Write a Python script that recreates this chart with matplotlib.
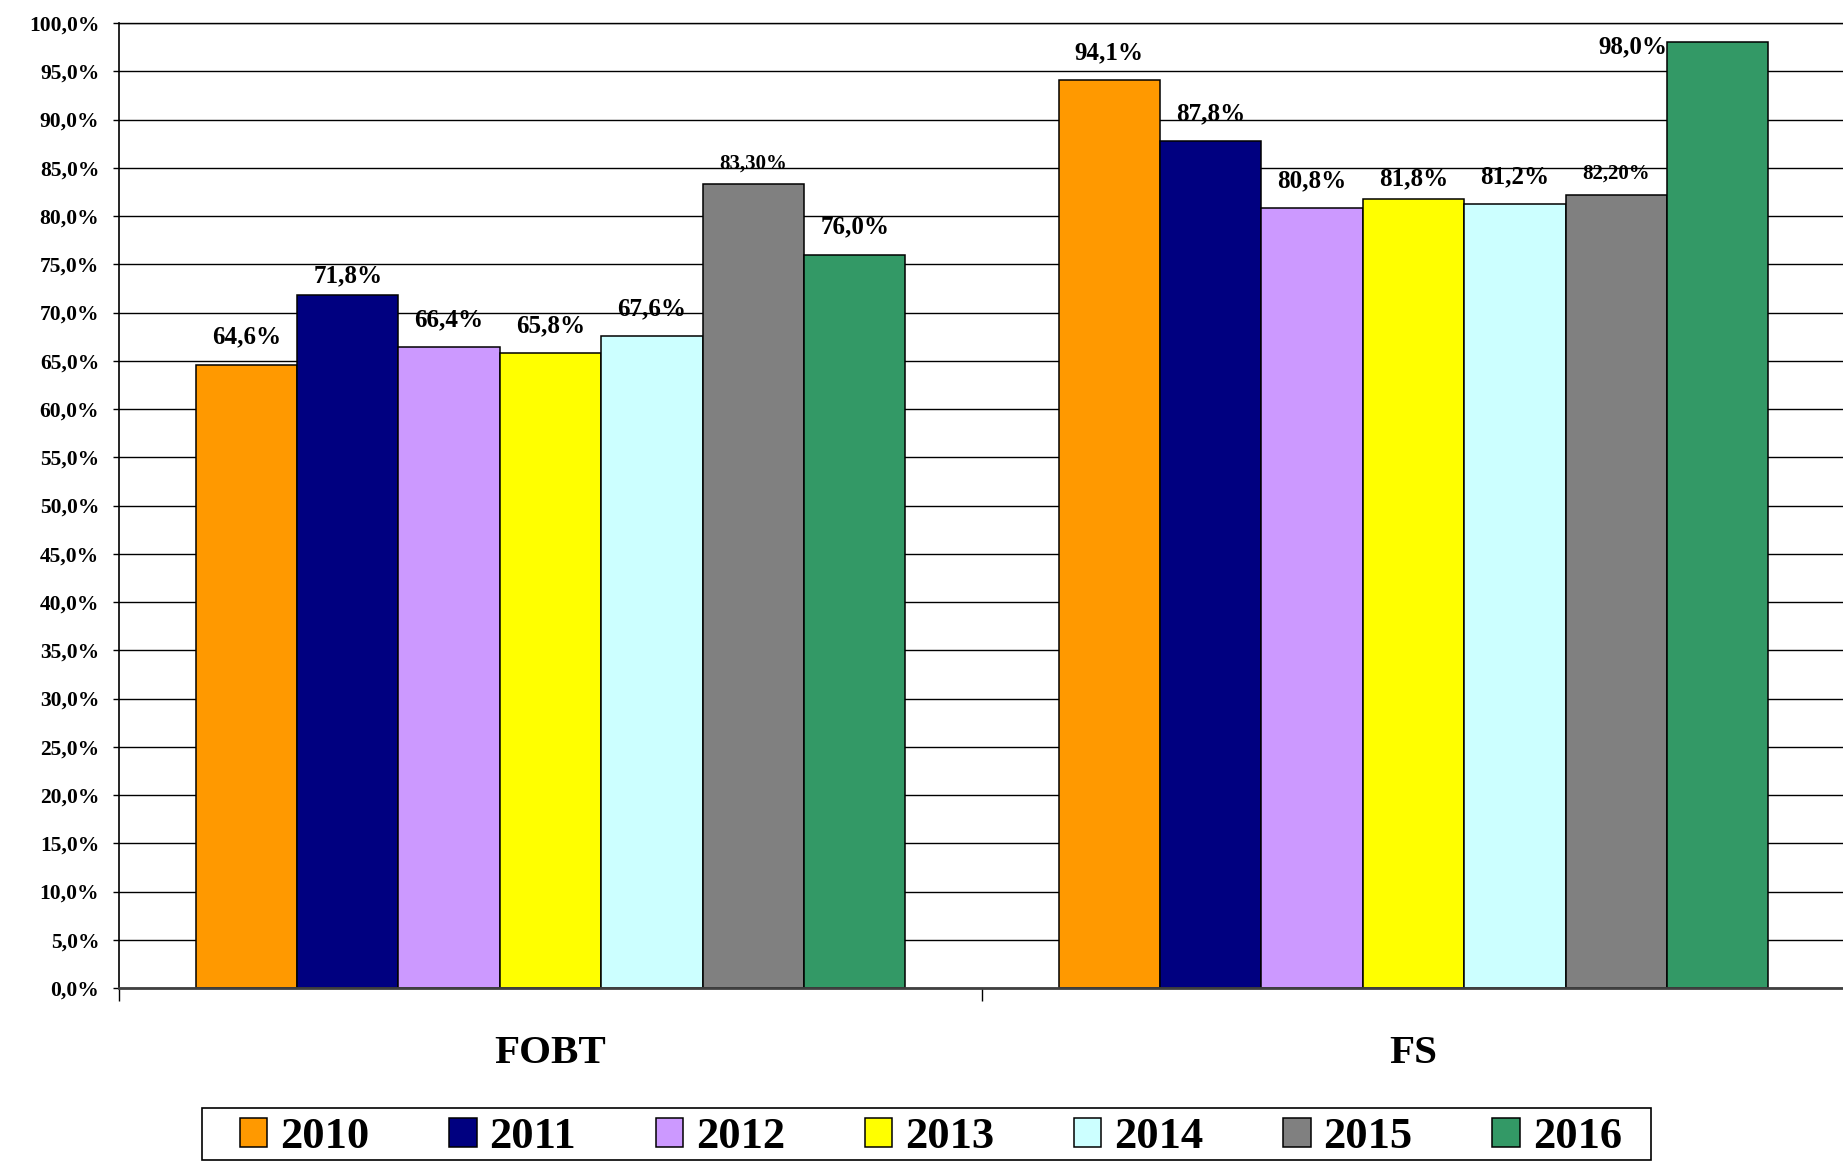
import numpy as np
import matplotlib.pyplot as plt
from matplotlib.patches import Rectangle

# data
categories = ["FOBT", "FS"]
years = ["2010", "2011", "2012", "2013", "2014", "2015", "2016"]
fobt = [64.6, 71.8, 66.4, 65.8, 67.6, 83.3, 76.0]
fs = [94.1, 87.8, 80.8, 81.8, 81.2, 82.2, 98.0]
colors = ["#FF9900", "#000080", "#CC99FF", "#FFFF00", "#CCFFFF", "#808080", "#339966"]

plt.rcParams["font.family"] = ["Liberation Serif", "DejaVu Serif"]
plt.rcParams["font.weight"] = "bold"

fig = plt.figure(figsize=(18.43, 11.67), dpi=100)
ax = fig.add_axes([119 / 1843, 179 / 1167, 1726 / 1843, 965 / 1167])

x = np.arange(len(categories))
width = 0.1175
values = np.array([fobt, fs]).T  # rows = years

bars = []
for i, year in enumerate(years):
    offs = (i - 3) * width
    b = ax.bar(x + offs, values[i], width, color=colors[i], edgecolor="black",
               linewidth=1.1, label=year, zorder=3)
    bars.append(b)

# a few labels sit lower over their bar in the original
low_labels = {("2011", "FOBT"), ("2013", "FS")}

for i, year in enumerate(years):
    for j, rect in enumerate(bars[i]):
        v = values[i][j]
        cat = categories[j]
        cx = rect.get_x() + rect.get_width() / 2
        if year == "2015":
            txt = f"{v:.2f}%".replace(".", ",")
            ax.annotate(txt, (cx, v), xytext=(0, 11.5), textcoords="offset points",
                        ha="center", va="baseline", fontsize=15, fontweight="bold")
        elif year == "2016" and cat == "FS":
            txt = f"{v:.1f}%".replace(".", ",")
            ax.annotate(txt, (rect.get_x(), v), xytext=(0, -3), textcoords="offset points",
                        ha="right", va="center", fontsize=18, fontweight="bold")
        else:
            txt = f"{v:.1f}%".replace(".", ",")
            dy = 9.5 if (year, cat) in low_labels else 15
            ax.annotate(txt, (cx, v), xytext=(0, dy), textcoords="offset points",
                        ha="center", va="baseline", fontsize=18, fontweight="bold")

ax.set_xlim(-0.5, 1.5)
ax.set_ylim(0, 100)

yt = np.arange(0, 101, 5)
ax.set_yticks(yt)
ax.set_yticklabels([f"{v:.1f}%".replace(".", ",") for v in yt], fontsize=15.5, fontweight="bold")
ax.tick_params(axis="y", direction="out", length=4.3, width=1, pad=10, colors="black")

ax.set_xticks([-0.5, 0.5, 1.5])
ax.set_xticklabels([])
ax.tick_params(axis="x", which="major", direction="out", length=9, width=1)
ax.set_xticks(x, labels=categories, minor=True)
ax.tick_params(axis="x", which="minor", length=0, pad=34, labelsize=29.5)

ax.yaxis.grid(True, color="black", linewidth=1)
ax.set_axisbelow(True)
ax.spines["right"].set_visible(False)
ax.spines["top"].set_color("black")
ax.spines["top"].set_linewidth(1)
ax.spines["left"].set_linewidth(1.2)
ax.spines["bottom"].set_color("#404040")
ax.spines["bottom"].set_linewidth(2)
ax.spines["bottom"].set_zorder(4)

leg = fig.legend(loc="center", bbox_to_anchor=(0.505, 0.0255), ncol=7, fontsize=32,
                 frameon=False, handlelength=0.62, handleheight=0.6, handletextpad=0.29,
                 columnspacing=1.79, borderpad=0.2, borderaxespad=0)

# legend frame, wider than the entries as in the original
fig.patches.append(Rectangle((202 / 1843, 7 / 1167), 1449 / 1843, 52 / 1167,
                             transform=fig.transFigure, fill=False,
                             edgecolor="black", linewidth=1.2))

fig.savefig("out.png", dpi=100)
plt.close()
